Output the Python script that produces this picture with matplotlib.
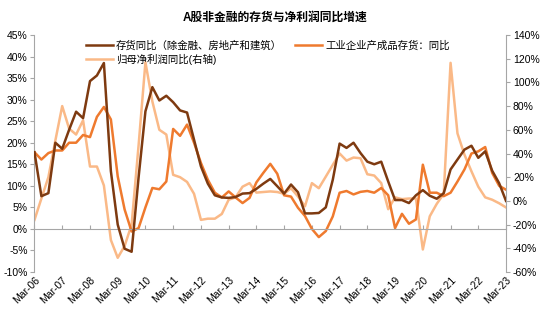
import pandas as pd
import matplotlib
matplotlib.use("Agg")
import matplotlib.pyplot as plt
import matplotlib.dates as mdates

plt.rcParams['font.family'] = ['Liberation Sans', 'Noto Sans CJK SC', 'DejaVu Sans']

# quarterly, Mar-06 .. Mar-23
quarters = pd.date_range('2006-03-31', '2023-03-31', freq='QE')

# 存货同比（除金融、房地产和建筑）, %
inv_yoy = [17.8, 7.6, 8.3, 20.0, 18.6, 23.0, 27.2, 25.7, 34.3, 35.6,
           38.5, 13.4, 1.0, -4.6, -5.3, 12.0, 27.3, 32.9, 29.8, 30.9,
           29.4, 27.5, 27.0, 20.7, 14.5, 10.5, 7.8, 7.3, 7.2, 7.4,
           8.2, 8.3, 9.3, 10.5, 11.6, 9.9, 8.2, 10.3, 8.5, 3.6,
           3.6, 3.7, 5.0, 11.4, 19.8, 18.8, 20.0, 17.6, 15.6, 15.0,
           15.6, 11.0, 6.7, 6.7, 6.0, 7.8, 9.0, 7.7, 7.0, 8.3,
           13.8, 16.1, 18.4, 19.3, 16.5, 18.0, 13.5, 10.6, 6.5]

# 工业企业产成品存货：同比, %
ind_fg_yoy = [17.8, 16.1, 17.6, 18.2, 18.2, 20.0, 20.0, 21.8, 21.3, 26.0,
              28.3, 25.4, 12.2, 4.5, -0.6, 0.2, 5.0, 9.5, 9.2, 11.0,
              23.2, 21.6, 24.2, 20.0, 15.3, 11.4, 8.4, 7.3, 8.7, 7.3,
              6.0, 7.2, 10.8, 13.0, 15.1, 12.8, 7.8, 7.5, 4.9, 3.0,
              0.0, -1.9, -0.5, 2.9, 8.4, 8.8, 8.0, 8.6, 8.8, 8.4,
              9.5, 7.8, 0.2, 3.5, 1.2, 2.2, 14.9, 8.4, 8.4, 7.6,
              8.4, 11.0, 13.8, 17.5, 18.0, 19.0, 13.0, 10.0, 9.1]

# 归母净利润同比 (right axis), %
np_yoy = [-16, 2, 20, 51, 80, 61, 56, 68, 29, 29,
          13, -33, -48, -38, -20, 47, 117, 84, 60, 56,
          22, 20, 16, 6, -16, -15, -15, -11, 1, 3,
          12, 15, 7, 7.5, 8, 7.5, 6, 10.7, 3.7, -4.5,
          15, 10.7, 20.5, 30.4, 40, 34, 36.6, 36, 22.5, 21.4,
          15, -7, 3, 1.5, 2, 2, -41, -13, -2.5, 6,
          116.5, 57, 39, 25, 12, 3, 1, -2, -5.5]

year_ticks = pd.date_range('2006-03-31', '2023-03-31', freq='YE-MAR')

c_dark = '#7E3A10'
c_orange = '#EF7A2E'
c_light = '#FAB987'
c_axis = '#A6A6A6'

fig = plt.figure(figsize=(5.5, 3.32), dpi=100)
ax = fig.add_axes([0.0627, 0.1807, 0.8573, 0.7139])
ax2 = ax.twinx()

l1, = ax.plot(quarters, inv_yoy, color=c_dark, lw=1.8, zorder=3)
l2, = ax.plot(quarters, ind_fg_yoy, color=c_orange, lw=1.8, zorder=2)
l3, = ax2.plot(quarters, np_yoy, color=c_light, lw=1.8, zorder=1)
ax.set_zorder(ax2.get_zorder() + 1)
ax.patch.set_visible(False)

ax.set_xlim(quarters[0], quarters[-1])
ax.set_ylim(-10, 45)
ax2.set_ylim(-60, 140)
ax.set_yticks(range(-10, 50, 5))
ax2.set_yticks(range(-60, 160, 20))
ax.yaxis.set_major_formatter(plt.FuncFormatter(lambda v, p: f'{v:.0f}%'))
ax2.yaxis.set_major_formatter(plt.FuncFormatter(lambda v, p: f'{v:.0f}%'))

for a in (ax, ax2):
    a.spines['top'].set_visible(False)
    a.tick_params(axis='y', labelsize=7.5, labelcolor='black', length=3,
                  width=0.8, pad=2, color=c_axis)
ax.spines['right'].set_visible(False)
ax2.spines['left'].set_visible(False)
ax2.spines['bottom'].set_visible(False)
ax.spines['left'].set_color(c_axis)
ax2.spines['right'].set_color(c_axis)

# category axis crosses at 0%
ax.spines['bottom'].set_position(('data', 0))
ax.spines['bottom'].set_color(c_axis)
ax.set_xticks(year_ticks)
ax.tick_params(axis='x', direction='in', length=3, color=c_axis,
               labelbottom=False)

# date labels sit at the foot of the chart
sec = ax.secondary_xaxis('bottom')
sec.spines['bottom'].set_visible(False)
sec.set_xticks(year_ticks)
sec.xaxis.set_major_formatter(mdates.DateFormatter('%b-%y'))
sec.tick_params(axis='x', length=0, labelsize=7.5, pad=2)
for t in sec.get_xticklabels():
    t.set_rotation(45)
    t.set_ha('right')
    t.set_va('top')
    t.set_rotation_mode('anchor')

fig.text(0.5, 0.947, 'A股非金融的存货与净利润同比增速', ha='center',
         va='center', fontsize=8.5, fontweight='bold')

# column-wise fill: left column holds two entries, right column one
ax.legend([l1, l3, l2],
          ['存货同比（除金融、房地产和建筑）', '归母净利润同比(右轴)',
           '工业企业产成品存货：同比'],
          ncol=2, loc='upper left', bbox_to_anchor=(0.095, 1.005),
          frameon=False, fontsize=7.5, handlelength=2.6,
          handletextpad=0.3, columnspacing=1.3, labelspacing=0.3,
          borderaxespad=0.2)

fig.savefig('out.png', dpi=100)
